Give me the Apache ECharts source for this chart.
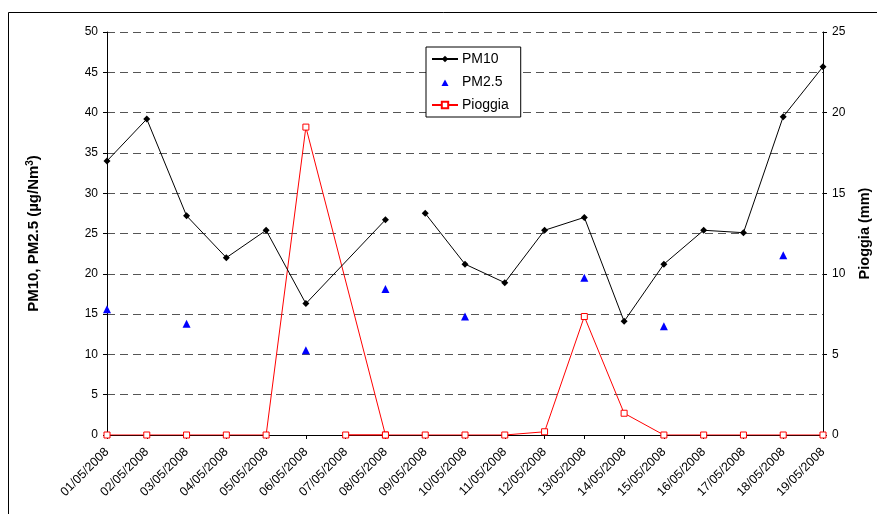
<!DOCTYPE html>
<html>
<head>
<meta charset="utf-8">
<script src="https://cdn.jsdelivr.net/npm/echarts@6/dist/echarts.min.js"></script>
<style>
  html, body { margin: 0; padding: 0; background: #fff; }
  #chart { width: 877px; height: 514px; }
</style>
</head>
<body>
<div id="chart"></div>
<script>
// Daily sampling dates
const dates = [
  '01/05/2008', '02/05/2008', '03/05/2008', '04/05/2008', '05/05/2008',
  '06/05/2008', '07/05/2008', '08/05/2008', '09/05/2008', '10/05/2008',
  '11/05/2008', '12/05/2008', '13/05/2008', '14/05/2008', '15/05/2008',
  '16/05/2008', '17/05/2008', '18/05/2008', '19/05/2008'
];

// PM10 (µg/Nm3), in row order; null breaks the line
const pm10Dates = [
  '01/05/2008', '02/05/2008', '03/05/2008', '04/05/2008', '05/05/2008',
  '06/05/2008', '08/05/2008', '07/05/2008', '09/05/2008', '10/05/2008',
  '11/05/2008', '12/05/2008', '13/05/2008', '14/05/2008', '15/05/2008',
  '16/05/2008', '17/05/2008', '18/05/2008', '19/05/2008'
];
const pm10Values = [
  34.0, 39.2, 27.2, 22.0, 25.4,
  16.3, 26.7, null, 27.5, 21.2,
  18.9, 25.4, 27.0, 14.1, 21.2,
  25.4, 25.1, 39.5, 45.7
];

// PM2.5 (µg/Nm3), only on sampled days
const pm25Dates = [
  '01/05/2008', '03/05/2008', '06/05/2008', '08/05/2008',
  '10/05/2008', '13/05/2008', '15/05/2008', '18/05/2008'
];
const pm25Values = [15.6, 13.8, 10.5, 18.1, 14.7, 19.5, 13.5, 22.3];

// Rainfall (mm), in row order
const rainDates = [
  '01/05/2008', '02/05/2008', '03/05/2008', '04/05/2008', '05/05/2008',
  '06/05/2008', '08/05/2008', '07/05/2008', '08/05/2008', '09/05/2008',
  '10/05/2008', '11/05/2008', '12/05/2008', '13/05/2008', '14/05/2008',
  '15/05/2008', '16/05/2008', '17/05/2008', '18/05/2008', '19/05/2008'
];
const rainValues = [
  0, 0, 0, 0, 0,
  19.1, 0, 0, 0, 0,
  0, 0, 0.2, 7.35, 1.35,
  0, 0, 0, 0, 0
];

// Left and right axis ticks
const leftTicks = { min: 0, max: 50, interval: 5 };
const rightTicks = { min: 0, max: 25, interval: 5 };

const pair = (xs, ys) => xs.map((x, i) => [x, ys[i]]);

const chart = echarts.init(document.getElementById('chart'), null, { renderer: 'canvas' });

const font = 'Arial, "Liberation Sans", sans-serif';

// small triangle centred in a wide legend slot
const smallTriangle = 'path://M0,0L0,0M26,8L26,8M9.5,8L13,1.5L16.5,8Z';

chart.setOption({
  animation: false,
  backgroundColor: '#ffffff',
  textStyle: { fontFamily: font },
  grid: { left: 107, right: 54, top: 32, bottom: 79, containLabel: false, outerBoundsMode: 'none' },
  graphic: [{
    type: 'rect',
    shape: { x: 8.5, y: 12.5, width: 900, height: 600 },
    style: { fill: 'none', stroke: '#000', lineWidth: 1 },
    silent: true
  }],
  legend: {
    orient: 'vertical',
    left: 426,
    top: 47,
    padding: [5, 12, 5, 5],
    itemGap: 9,
    itemWidth: 26,
    itemHeight: 8,
    borderColor: '#000',
    borderWidth: 1,
    backgroundColor: '#fff',
    textStyle: { fontFamily: font, fontSize: 14, color: '#000', padding: [0, 0, 0, -1] },
    data: [
      { name: 'PM10' },
      { name: 'PM2.5', icon: smallTriangle },
      { name: 'Pioggia' }
    ]
  },
  xAxis: {
    type: 'category',
    data: dates,
    boundaryGap: false,
    axisLine: { lineStyle: { color: '#000', width: 1 } },
    axisTick: { alignWithLabel: true, length: 4, lineStyle: { color: '#000' } },
    axisLabel: {
      interval: 0,
      rotate: 45,
      color: '#000',
      fontFamily: font,
      fontSize: 12.5,
      margin: 15
    },
    splitLine: { show: false }
  },
  yAxis: [{
    type: 'value',
    min: leftTicks.min,
    max: leftTicks.max,
    interval: leftTicks.interval,
    name: 'PM10, PM2.5 (µg/Nm{sup|3})',
    nameLocation: 'middle',
    nameRotate: 90,
    nameGap: 65,
    nameTextStyle: {
      fontFamily: font, fontSize: 15, fontWeight: 'bold', color: '#000',
      rich: { sup: { fontFamily: font, fontSize: 10, fontWeight: 'bold', color: '#000', verticalAlign: 'top', padding: [0, 0, 7, 0] } }
    },
    axisLine: { show: true, lineStyle: { color: '#000', width: 1 } },
    axisTick: { show: true, length: 4, lineStyle: { color: '#000' } },
    axisLabel: { color: '#000', fontFamily: font, fontSize: 12, margin: 9 },
    splitLine: { show: true, lineStyle: { color: '#555', width: 1, type: [8, 5] } }
  }, {
    type: 'value',
    position: 'right',
    min: rightTicks.min,
    max: rightTicks.max,
    interval: rightTicks.interval,
    name: 'Pioggia (mm)',
    nameLocation: 'middle',
    nameRotate: 90,
    nameGap: 34,
    nameTextStyle: { fontFamily: font, fontSize: 14.5, fontWeight: 'bold', color: '#000' },
    axisLine: { show: true, lineStyle: { color: '#000', width: 1 } },
    axisTick: { show: true, length: 4, lineStyle: { color: '#000' } },
    axisLabel: { color: '#000', fontFamily: font, fontSize: 12, margin: 9 },
    splitLine: { show: false }
  }],
  series: [{
    name: 'Pioggia',
    type: 'line',
    yAxisIndex: 1,
    data: pair(rainDates, rainValues),
    symbol: 'rect',
    symbolSize: 6,
    showAllSymbol: true,
    lineStyle: { color: '#ff0000', width: 1 },
    itemStyle: { color: '#fff', borderColor: '#ff0000', borderWidth: 1 },
    z: 2
  }, {
    name: 'PM10',
    type: 'line',
    yAxisIndex: 0,
    data: pair(pm10Dates, pm10Values),
    connectNulls: false,
    symbol: 'diamond',
    symbolSize: 7,
    showAllSymbol: true,
    lineStyle: { color: '#000', width: 1 },
    itemStyle: { color: '#000' },
    z: 3
  }, {
    name: 'PM2.5',
    type: 'scatter',
    yAxisIndex: 0,
    data: pair(pm25Dates, pm25Values),
    symbol: 'triangle',
    symbolSize: 8,
    itemStyle: { color: '#0000ff', opacity: 1 },
    z: 4
  }]
});
</script>
</body>
</html>
